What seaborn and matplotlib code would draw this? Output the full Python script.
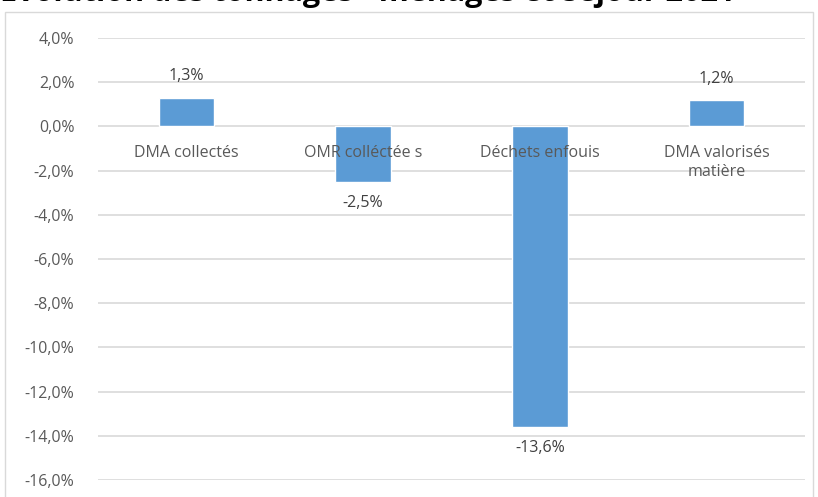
import matplotlib
matplotlib.use("Agg")
import matplotlib.pyplot as plt
import matplotlib.patches as mpatches
from matplotlib.ticker import FuncFormatter
import seaborn as sns
import pandas as pd

# Data
categories = ["DMA collectés", "OMR colléctée s", "Déchets enfouis", "DMA valorisés\nmatière"]
variation = [1.3, -2.5, -13.6, 1.2]  # in %
title_text = "Evolution des tonnages - ménages et séjour 2021"

df = pd.DataFrame({"cat": categories, "val": variation})

sns.set_theme(style="white")
plt.rcParams["font.family"] = ["Open Sans", "DejaVu Sans"]

fig = plt.figure(figsize=(8.18, 4.97), dpi=100)
# plot area: gridlines from x=98..805, y=38 (4%) .. 480 (-16%)
ax = fig.add_axes([98 / 818, 17 / 497, (805 - 98) / 818, (480 - 38) / 497])

sns.barplot(data=df, x="cat", y="val", color="#5B9BD5", width=0.315,
            saturation=1, ax=ax, zorder=2)

ax.set_ylim(-16, 4)
ax.set_yticks(range(-16, 5, 2))
ax.yaxis.set_major_formatter(FuncFormatter(lambda v, p: f"{v:.1f}%".replace(".", ",")))
ax.tick_params(axis="y", labelsize=11.5, colors="#595959", pad=17, length=0)
ax.grid(axis="y", color="#D9D9D9", linewidth=1.2, zorder=0)
ax.set_axisbelow(True)
for s in ax.spines.values():
    s.set_visible(False)
ax.set_xlabel("")
ax.set_ylabel("")
ax.set_xticks([])

# category labels sit just below the zero line, drawn on top of bars
for i, c in enumerate(categories):
    ax.text(i, -0.85, c, ha="center", va="top", fontsize=11.5, color="#595959",
            zorder=5, linespacing=1.25)

# data labels
for i, v in enumerate(variation):
    lbl = f"{v:.1f}%".replace(".", ",")
    if v >= 0:
        ax.text(i, v + 0.6, lbl, ha="center", va="bottom", fontsize=11.5, color="#404040")
    else:
        ax.text(i, v - 0.6, lbl, ha="center", va="top", fontsize=11.5, color="#404040")

# outer chart border
fig.patches.append(mpatches.Rectangle((5 / 818, -0.01), 808 / 818, 1 - 12 / 497 + 0.01,
                                      transform=fig.transFigure, fill=False,
                                      edgecolor="#D9D9D9", linewidth=1))

# cropped title at the top (only its lower part shows, as in the reference)
fig.text(0.0, 1 - 1 / 497, title_text, ha="left", va="baseline",
         fontsize=22, fontweight="bold", color="black")

fig.savefig("out.png", dpi=100)
